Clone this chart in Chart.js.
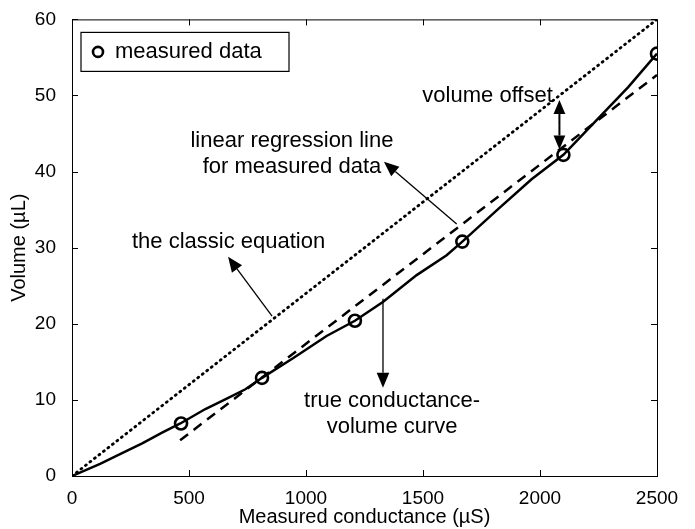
<!DOCTYPE html>
<html>
<head>
<meta charset="utf-8">
<script src="https://cdn.jsdelivr.net/npm/chart.js@4/dist/chart.umd.min.js"></script>
<style>
    html, body { margin: 0; padding: 0; background: #fff; }
    #wrap { width: 695px; height: 529px; }
</style>
</head>
<body>
<div id="wrap"><canvas id="chart"></canvas></div>
<script>
// values
const xTicks = [0, 500, 1000, 1500, 2000, 2500]
const yTicks = [0, 10, 20, 30, 40, 50, 60]

const measuredX = [466, 812, 1209, 1668, 2100, 2500]
const measuredY = [6.9, 12.9, 20.4, 30.8, 42.2, 55.5]

const trueX = [0, 120, 214, 300, 385, 463, 570, 670, 741, 812, 946, 1088, 1209, 1330, 1473, 1601, 1668, 1822, 1964, 2100, 2249, 2377, 2500]
const trueY = [0, 1.6, 3.0, 4.3, 5.7, 6.9, 8.8, 10.3, 11.4, 12.9, 15.5, 18.4, 20.4, 22.9, 26.4, 29.0, 30.8, 35.1, 39.0, 42.2, 47.0, 51.1, 55.5]

const classicX = [0, 2500]
const classicY = [0, 60]

const regressionX = [462, 2500]
const regressionY = [4.7, 52.7]

const FONT = "'Liberation Sans', Arial, Helvetica, sans-serif"

const toPoints = (xs, ys) => xs.map((x, i) => ({ x: x, y: ys[i] }))

/**
 * Text notes and arrows placed in data units
 */
const notes = [
    { lines: ["the classic equation"], x: 669, y: 30.7 },
    { lines: ["linear regression line", "for measured data"], x: 940, y: 44.0 },
    { lines: ["volume offset"], x: 1776, y: 50.0 },
    { lines: ["true conductance-", "volume curve"], x: 1368, y: 9.9 },
]
const arrows = [
    { from: [855, 21.0], to: [667, 28.8], width: 1.3 },
    { from: [1644, 33.1], to: [1333, 41.3], width: 1.3 },
    { from: [1329, 23.3], to: [1329, 11.6], width: 1.3 },
    { from: [2083, 46.0], to: [2083, 49.4], width: 2, head: 14 },
    { from: [2083, 46.0], to: [2083, 42.9], width: 2, head: 14 },
]

function drawArrow(ctx, x1, y1, x2, y2, width, head) {
    const ang = Math.atan2(y2 - y1, x2 - x1)
    const len = head || 15
    const half = len * 0.42
    const bx = x2 - len * Math.cos(ang)
    const by = y2 - len * Math.sin(ang)
    ctx.lineWidth = width
    ctx.beginPath()
    ctx.moveTo(x1, y1)
    ctx.lineTo(bx, by)
    ctx.stroke()
    ctx.beginPath()
    ctx.moveTo(x2, y2)
    ctx.lineTo(bx + half * Math.sin(ang), by - half * Math.cos(ang))
    ctx.lineTo(bx - half * Math.sin(ang), by + half * Math.cos(ang))
    ctx.closePath()
    ctx.fill()
}

const matlabFrame = {
    id: "matlabFrame",
    afterDatasetsDraw(chart) {
        const { ctx, chartArea: a, scales } = chart
        const sx = scales.x, sy = scales.y
        ctx.save()
        ctx.strokeStyle = "#000"
        ctx.fillStyle = "#000"

        // box and inward ticks
        ctx.lineWidth = 1
        ctx.strokeRect(a.left + 0.5, a.top + 0.5, a.right - a.left, a.bottom - a.top)
        ctx.beginPath()
        xTicks.forEach((v) => {
            const px = Math.round(sx.getPixelForValue(v)) + 0.5
            ctx.moveTo(px, a.bottom); ctx.lineTo(px, a.bottom - 6)
            ctx.moveTo(px, a.top); ctx.lineTo(px, a.top + 6)
        })
        yTicks.forEach((v) => {
            const py = Math.round(sy.getPixelForValue(v)) + 0.5
            ctx.moveTo(a.left, py); ctx.lineTo(a.left + 6, py)
            ctx.moveTo(a.right, py); ctx.lineTo(a.right - 6, py)
        })
        ctx.stroke()

        // notes
        ctx.font = "22px " + FONT
        ctx.textAlign = "center"
        ctx.textBaseline = "middle"
        notes.forEach((n) => {
            const px = sx.getPixelForValue(n.x)
            const py = sy.getPixelForValue(n.y)
            n.lines.forEach((t, i) => ctx.fillText(t, px, py + i * 26))
        })
        arrows.forEach((r) => {
            drawArrow(ctx,
                sx.getPixelForValue(r.from[0]), sy.getPixelForValue(r.from[1]),
                sx.getPixelForValue(r.to[0]), sy.getPixelForValue(r.to[1]),
                r.width, r.head)
        })

        // legend box
        const lx = a.left + 9, ly = a.top + 13
        ctx.fillStyle = "#fff"
        ctx.fillRect(lx, ly, 208, 39)
        ctx.lineWidth = 1.2
        ctx.strokeRect(lx, ly, 208, 39)
        ctx.lineWidth = 2.6
        ctx.beginPath()
        ctx.arc(lx + 17, ly + 19.5, 5, 0, Math.PI * 2)
        ctx.stroke()
        ctx.fillStyle = "#000"
        ctx.textAlign = "left"
        ctx.fillText(chart.data.datasets[0].label, lx + 34, ly + 19.5)
        ctx.restore()
    }
}

new Chart(document.getElementById("chart"), {
    type: "scatter",
    data: {
        datasets: [{
            label: "measured data",
            data: toPoints(measuredX, measuredY),
            showLine: false,
            pointStyle: "circle",
            pointRadius: 6,
            pointBorderWidth: 2.6,
            pointBorderColor: "#000",
            pointBackgroundColor: "rgba(0,0,0,0)",
            order: 0,
        }, {
            label: "true conductance-volume curve",
            data: toPoints(trueX, trueY),
            showLine: true,
            borderColor: "#000",
            borderWidth: 2.5,
            pointRadius: 0,
            order: 1,
        }, {
            label: "linear regression line",
            data: toPoints(regressionX, regressionY),
            showLine: true,
            borderColor: "#000",
            borderWidth: 2.5,
            borderDash: [10, 7],
            pointRadius: 0,
            order: 2,
        }, {
            label: "the classic equation",
            data: toPoints(classicX, classicY),
            showLine: true,
            borderColor: "#000",
            borderWidth: 2.8,
            borderDash: [1, 4.7],
            borderCapStyle: "round",
            pointRadius: 0,
            order: 3,
        }]
    },
    options: {
        responsive: true,
        maintainAspectRatio: false,
        animation: false,
        layout: { padding: { left: 0, top: 15, right: 38, bottom: 0 } },
        plugins: {
            legend: { display: false },
            tooltip: { enabled: false },
        },
        scales: {
            x: {
                type: "linear",
                min: 0,
                max: 2500,
                afterBuildTicks: (s) => { s.ticks = xTicks.map((v) => ({ value: v })) },
                afterFit: (s) => { s.height = 53 },
                grid: { display: false },
                border: { display: false },
                ticks: {
                    color: "#000",
                    padding: 3,
                    font: { family: FONT, size: 19 },
                    callback: (v) => String(v),
                },
                title: {
                    display: true,
                    text: "Measured conductance (\u00b5S)",
                    color: "#000",
                    padding: { top: 0, bottom: 0 },
                    font: { family: FONT, size: 20 },
                },
            },
            y: {
                type: "linear",
                min: 0,
                max: 60,
                afterBuildTicks: (s) => { s.ticks = yTicks.map((v) => ({ value: v })) },
                afterFit: (s) => { s.width = 72 },
                grid: { display: false },
                border: { display: false },
                ticks: {
                    color: "#000",
                    padding: 8,
                    font: { family: FONT, size: 19 },
                    callback: (v) => String(v),
                },
                title: {
                    display: true,
                    text: "Volume (\u00b5L)",
                    color: "#000",
                    padding: { top: 7, bottom: 0 },
                    font: { family: FONT, size: 20 },
                },
            },
        },
    },
    plugins: [matlabFrame],
})
</script>
</body>
</html>
